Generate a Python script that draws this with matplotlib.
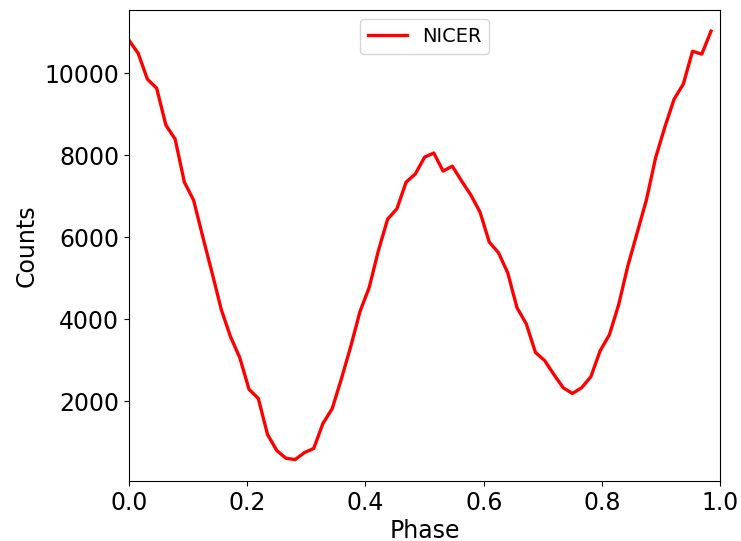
import matplotlib
import matplotlib.pyplot as plt
import numpy as np

matplotlib.use("Agg")

# pulse profile, 64 phase bins
n_bins = 64
counts = [
    10800, 10480, 9850, 9630, 8730, 8390, 7340, 6900,
    6000, 5130, 4230, 3570, 3060, 2290, 2070, 1190,
    800, 610, 580, 750, 850, 1460, 1820, 2550,
    3330, 4180, 4770, 5670, 6440, 6690, 7340, 7540,
    7950, 8050, 7610, 7730, 7370, 7030, 6610, 5880,
    5620, 5130, 4280, 3890, 3190, 2990, 2650, 2330,
    2190, 2330, 2600, 3230, 3620, 4350, 5300, 6100,
    6900, 7930, 8680, 9360, 9730, 10530, 10460, 11020,
]
phase = np.arange(n_bins) / n_bins

fig = plt.figure(figsize=(7.41, 5.41), dpi=100)
ax = fig.add_axes([0.174, 0.111, 0.798, 0.871])

ax.plot(phase, counts, color="red", lw=2.4, label="NICER")
ax.set_xlim(0, 1)
ax.set_xlabel("Phase", fontsize=17, labelpad=3)
ax.set_ylabel("Counts", fontsize=17)
ax.tick_params(labelsize=17)
ax.legend(loc="upper center", fontsize=14)

fig.savefig("out.png", dpi=100)
plt.close(fig)
